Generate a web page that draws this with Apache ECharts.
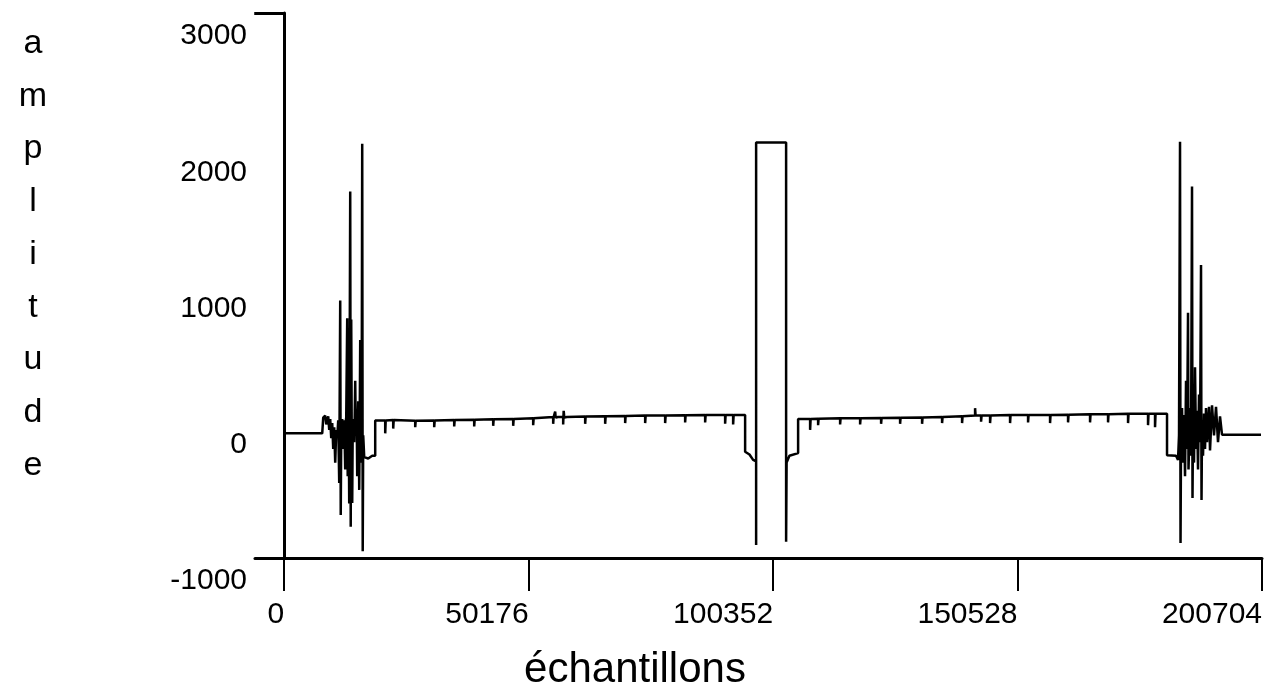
<!DOCTYPE html>
<html>
<head>
<meta charset="utf-8">
<script src="https://cdn.jsdelivr.net/npm/echarts@6/dist/echarts.min.js"></script>
<style>html,body{margin:0;padding:0;background:#fff}#chart{width:1278px;height:699px}</style>
</head>
<body>
<div id="chart"></div>
<script>
// x tick values (samples) and y tick labels
const xTickValues = [0, 50176, 100352, 150528, 200704];
const yTickValues = [-1000, 0, 1000, 2000, 3000];
const yAxisTitle = 'amplitude';
const xAxisTitle = 'échantillons';

// signal pieces: [sample, amplitude]
const leftFlat = [[0, -85], [7800, -85]];
const leftBurst = [
  [8004, 30], [8414, 45], [8619, -20], [9030, 40], [9235, -60], [9440, 20], [9645, -120], [9851, -10],
  [10056, -200], [10261, -40], [10466, -300], [10671, -60], [10877, -120], [11082, 10], [11287, -450],
  [11492, 890], [11600, -685], [11697, -100], [11800, -20], [11903, 20], [12000, -130], [12108, -200],
  [12200, 10], [12313, -50], [12420, -160], [12518, -350], [12620, 0], [12724, 30], [12929, 760],
  [13030, -400], [13134, -60], [13230, 20], [13339, -600], [13545, 1690], [13650, -770], [13750, 750],
  [13850, -50], [13955, -597], [14060, -30], [14160, 20], [14260, -120], [14366, -150], [14470, 40],
  [14571, 300], [14680, -60], [14776, -100], [14880, 30], [14981, -400], [15090, -20], [15186, 150],
  [15290, -80], [15392, -500], [15500, 20], [15597, 600], [15700, -60], [15802, -300], [15900, 30],
  [16007, 2040], [16110, -950], [16212, -100], [16418, -260], [16623, -260], [17238, -270],
  [18059, -250], [18675, -250]
];
const midLeft = [
  [18675, 10],
  [20727, 10], [20727, -85], [20830, 10],
  [22369, 12], [22369, -50], [22470, 12],
  [26884, 8], [26884, -40], [26990, 8],
  [30783, 10], [30783, -40], [30890, 10],
  [34887, 12], [34887, -35], [34990, 12],
  [38992, 15], [38992, -35], [39090, 15],
  [42891, 18], [42891, -30], [42990, 18],
  [46995, 20], [46995, -30], [47100, 20],
  [51100, 25], [51100, -25], [51200, 25],
  [55204, 35], [55204, -15], [55300, 35],
  [55615, 75], [55720, 30], [56200, 35], [57256, 35], [57256, -20], [57360, 80], [57500, 30], [58000, 35],
  [61771, 38], [61771, -15], [61870, 38],
  [65876, 40], [65876, -15], [65980, 40],
  [69980, 42], [69980, -10], [70080, 42],
  [74085, 45], [74085, -10], [74190, 45],
  [78189, 45], [78189, -10], [78290, 45],
  [82293, 48], [82293, -5], [82390, 48],
  [86398, 50], [86398, -5], [86500, 50],
  [90502, 50], [90502, -15], [90600, 50],
  [92144, 50], [92144, -20], [92250, 50],
  [94606, 50]
];
const centralPulse = [
  [94606, -220], [95500, -240], [96248, -280], [96864, -290], [96864, -905], [96864, 2050],
  [103020, 2050], [103020, -880], [103120, -300], [103700, -250], [105483, -230], [105483, 20]
];
const midRight = [
  [107946, 20], [107946, -60], [108050, 20],
  [109587, 22], [109587, -25], [109690, 22],
  [114102, 25], [114102, -20], [114200, 25],
  [118207, 25], [118207, -20], [118310, 25],
  [122516, 28], [122516, -15], [122620, 28],
  [126416, 30], [126416, -15], [126520, 30],
  [130930, 32], [130930, -15], [131030, 32],
  [135035, 35], [135035, -10], [135140, 35],
  [139139, 40], [139139, -10], [139240, 40],
  [141808, 45], [141808, 100], [141910, 45],
  [143038, 45], [143038, 0], [143140, 45],
  [144885, 45], [144885, -10], [144990, 45],
  [148990, 50], [148990, -10], [149090, 50],
  [152684, 50], [152684, -5], [152790, 50],
  [157199, 50], [157199, -10], [157300, 50],
  [160892, 52], [160892, -5], [161000, 52],
  [165407, 55], [165407, -5], [165510, 55],
  [169101, 55], [169101, -5], [169200, 55],
  [173206, 58], [173206, -10], [173310, 58],
  [177310, 58], [177310, -25], [177410, 58],
  [178747, 58], [178747, -40], [178850, 58],
  [181209, 58]
];
const rightBurst = [
  [181209, -245], [183056, -250], [183466, -280], [183671, -100], [183877, 2055], [183980, -890],
  [184082, -150], [184287, 100], [184492, -300], [184697, 50], [184903, -400], [185108, 300],
  [185313, -200], [185518, 800], [185620, -350], [185929, 100], [186134, -250], [186339, 1727],
  [186440, -560], [186545, 0], [186750, -300], [186955, 400], [187160, -200], [187365, 80],
  [187571, -350], [187776, 200], [187981, -150], [188186, 1150], [188290, -575], [188391, -50],
  [188597, -250], [188802, 60], [189007, -200], [189212, 100], [189418, -150], [189828, 110],
  [190033, -210], [190444, 120], [190854, -100], [191265, 110], [191675, -150], [192086, 40],
  [192496, -95]
];
const rightFlat = [[192496, -95], [200500, -95]];

const signal = [].concat(leftFlat, leftBurst, midLeft, centralPulse, midRight, rightBurst, rightFlat);

const FONT = '"Liberation Sans", Arial, Helvetica, sans-serif';
const chart = echarts.init(document.getElementById('chart'), null, {renderer: 'canvas'});
chart.setOption({
  animation: false,
  backgroundColor: '#fff',
  grid: {left: 255, right: 16, top: 13, bottom: 141, containLabel: false},
  xAxis: {
    type: 'value', min: -6000, max: 200704,
    axisLine: {onZero: false, lineStyle: {color: '#000', width: 3}},
    axisTick: {show: true, customValues: xTickValues, length: 33, lineStyle: {color: '#000', width: 2}},
    axisLabel: {customValues: xTickValues, formatter: v => String(v), align: 'right', margin: 42,
      fontSize: 30, color: '#000', fontFamily: FONT},
    splitLine: {show: false}
  },
  yAxis: {
    type: 'value', min: -1000, max: 3000, interval: 1000,
    axisLine: {onZero: true, lineStyle: {color: '#000', width: 3}},
    axisTick: {show: true, customValues: [3000], length: 30, lineStyle: {color: '#000', width: 3}},
    axisLabel: {customValues: yTickValues, formatter: v => String(v), margin: 8, fontSize: 30, color: '#000',
      fontFamily: FONT, verticalAlign: 'top', padding: [8, 0, 0, 0]},
    splitLine: {show: false}
  },
  graphic: [
    {type: 'text', x: 33, y: 17,
      style: {text: yAxisTitle.split('').join('\n'), fontSize: 34, lineHeight: 52.75, fill: '#000',
        fontFamily: FONT, align: 'center', verticalAlign: 'top'}},
    {type: 'text', x: 635, y: 670,
      style: {text: xAxisTitle, fontSize: 42, fill: '#000', fontFamily: FONT, align: 'center', verticalAlign: 'middle'}}
  ],
  series: [{
    type: 'line', data: signal, symbol: 'none', sampling: null, clip: false,
    lineStyle: {color: '#000', width: 2.5}
  }]
});
</script>
</body>
</html>
